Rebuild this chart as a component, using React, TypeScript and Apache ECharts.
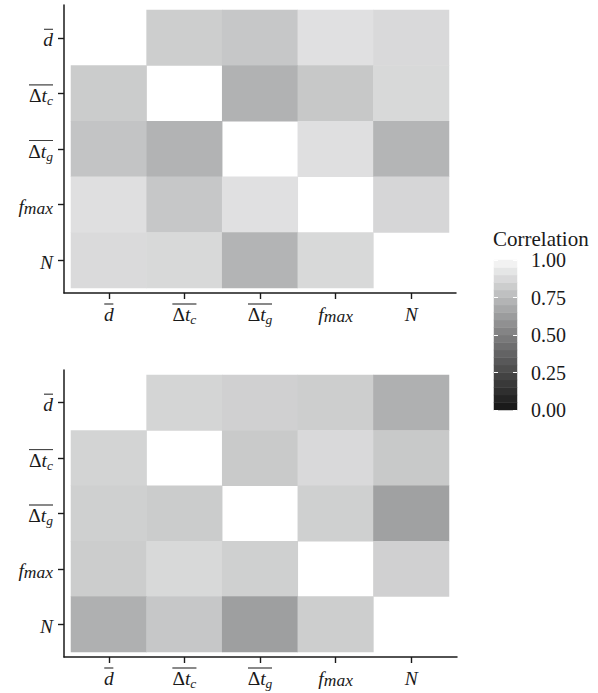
import React, { useEffect, useRef } from 'react';
import * as echarts from 'echarts';

// Variables (rows top→bottom, columns left→right)
const variables = ['d', 'dtc', 'dtg', 'fmax', 'N'];

// Correlation matrices; null = diagonal (left blank)
const topCorrelation: (number | null)[][] = [
  [null, 0.846, 0.817, 0.925, 0.896],
  [0.838, null, 0.728, 0.821, 0.892],
  [0.804, 0.732, null, 0.921, 0.741],
  [0.921, 0.817, 0.925, null, 0.883],
  [0.9, 0.892, 0.737, 0.892, null],
];
const bottomCorrelation: (number | null)[][] = [
  [null, 0.875, 0.858, 0.846, 0.719],
  [0.871, null, 0.829, 0.896, 0.825],
  [0.854, 0.838, null, 0.854, 0.652],
  [0.842, 0.892, 0.854, null, 0.858],
  [0.719, 0.817, 0.643, 0.846, null],
];

// Colour-bar legend
const legendTitle = 'Correlation';
const legendBins = [
  0, 0.0526, 0.1053, 0.1579, 0.2105, 0.2632, 0.3158, 0.3684, 0.4211, 0.4737,
  0.5263, 0.5789, 0.6316, 0.6842, 0.7368, 0.7895, 0.8421, 0.8947, 0.9474, 1,
];
const legendMin = 0;
const legendMax = 1;
const legendStep = 0.25;

const FONT = "'Liberation Serif', 'Times New Roman', serif";
const INK = '#1a1a1a';
const GREYS = ['#1a1a1a', '#4b4b4b', '#7e7e7f', '#b6b7b8', '#f2f2f2'];

const labelText: Record<string, string> = {
  d: '{ol1|}\n{it|d}',
  dtc: '{ol2|}\n{up|Δ}{it|t}{sub|c}',
  dtg: '{ol2|}\n{up|Δ}{it|t}{sub|g}',
  fmax: '{ol0|}\n{it|f}{sub2|max}',
  N: '{ol0|}\n{it|N}',
};

const rich: any = {
  ol0: { width: 1, height: 0, lineHeight: 4 },
  ol1: { width: 9, height: 0, lineHeight: 4, borderColor: INK, borderWidth: 0.6 },
  ol2: { width: 24, height: 0, lineHeight: 4, borderColor: INK, borderWidth: 0.6 },
  it: { fontFamily: FONT, fontStyle: 'italic', fontSize: 19.5, lineHeight: 17, color: INK },
  up: { fontFamily: FONT, fontSize: 19.5, lineHeight: 17, color: INK },
  sub: { fontFamily: FONT, fontStyle: 'italic', fontSize: 13.5, lineHeight: 17, padding: [10, 0, 0, 0], color: INK },
  sub2: { fontFamily: FONT, fontStyle: 'italic', fontSize: 17.5, lineHeight: 17, padding: [3, 0, 0, 0], color: INK },
};

const toCells = (m: (number | null)[][]) => {
  const out: number[][] = [];
  m.forEach((row, yi) =>
    row.forEach((v, xi) => {
      if (v !== null) out.push([xi, yi, v]);
    })
  );
  return out;
};

const frameAxis = (gridIndex: number) => ({
  type: 'value',
  gridIndex,
  min: 0,
  max: 1,
  axisLine: { show: true, onZero: false, lineStyle: { color: INK, width: 1.5 } },
  axisTick: { show: false },
  axisLabel: { show: false },
  splitLine: { show: false },
});

const catX = (gridIndex: number) => ({
  type: 'category',
  gridIndex,
  data: variables,
  offset: 5,
  axisLine: { show: false },
  axisTick: { show: true, alignWithLabel: true, length: 6, lineStyle: { color: INK, width: 1.4 } },
  axisLabel: { interval: 0, margin: 9, formatter: (v: string) => labelText[v], rich },
  splitLine: { show: false },
});

const catY = (gridIndex: number) => ({
  type: 'category',
  gridIndex,
  data: variables,
  inverse: true,
  offset: 7,
  axisLine: { show: false },
  axisTick: { show: true, alignWithLabel: true, length: 6, lineStyle: { color: INK, width: 1.4 } },
  axisLabel: { interval: 0, margin: 11, formatter: (v: string) => labelText[v], rich },
  splitLine: { show: false },
});

export default function App() {
  const ref = useRef<HTMLDivElement>(null);
  useEffect(() => {
    document.body.style.margin = '0';
    if (!ref.current) return;
    const chart = echarts.init(ref.current, undefined, { renderer: 'svg' });
    const option: any = {
      animation: false,
      backgroundColor: '#ffffff',
      textStyle: { fontFamily: FONT },
      title: {
        text: legendTitle,
        left: 493,
        top: 228,
        padding: 0,
        textStyle: { fontFamily: FONT, fontSize: 21, fontWeight: 'normal', color: INK },
      },
      grid: [
        { left: 64, top: 5, width: 392, height: 288 },
        { left: 71, top: 10, width: 378, height: 278 },
        { left: 64, top: 370, width: 393, height: 287 },
        { left: 71, top: 375, width: 378, height: 277 },
        { left: 494, top: 260, width: 23, height: 150 },
      ],
      xAxis: [
        frameAxis(0),
        catX(1),
        frameAxis(2),
        catX(3),
        { type: 'category', gridIndex: 4, data: ['bar'], show: false },
      ],
      yAxis: [
        frameAxis(0),
        catY(1),
        frameAxis(2),
        catY(3),
        { type: 'category', gridIndex: 4, data: legendBins.map((_, i) => String(i)), show: false },
        {
          type: 'value',
          gridIndex: 4,
          position: 'right',
          min: legendMin,
          max: legendMax,
          interval: legendStep,
          z: 10,
          axisLine: { show: false },
          axisTick: { show: true, inside: true, length: 4, lineStyle: { color: '#ffffff', width: 1 } },
          axisLabel: {
            margin: 14,
            fontFamily: FONT,
            fontSize: 20,
            color: INK,
            formatter: (v: number) => v.toFixed(2),
          },
          splitLine: { show: false },
        },
        {
          type: 'value',
          gridIndex: 4,
          position: 'left',
          min: legendMin,
          max: legendMax,
          interval: legendStep,
          z: 10,
          axisLine: { show: false },
          axisTick: { show: true, inside: true, length: 4, lineStyle: { color: '#ffffff', width: 1 } },
          axisLabel: { show: false },
          splitLine: { show: false },
        },
      ],
      visualMap: {
        type: 'continuous',
        show: false,
        min: legendMin,
        max: legendMax,
        dimension: 2,
        seriesIndex: [0, 1, 2],
        inRange: { color: GREYS },
      },
      series: [
        {
          type: 'heatmap',
          xAxisIndex: 1,
          yAxisIndex: 1,
          data: toCells(topCorrelation),
          itemStyle: { borderWidth: 0 },
        },
        {
          type: 'heatmap',
          xAxisIndex: 3,
          yAxisIndex: 3,
          data: toCells(bottomCorrelation),
          itemStyle: { borderWidth: 0 },
        },
        {
          type: 'heatmap',
          xAxisIndex: 4,
          yAxisIndex: 4,
          data: legendBins.map((v, i) => [0, i, v]),
          itemStyle: { borderWidth: 0 },
        },
      ],
    };
    chart.setOption(option);
    return () => chart.dispose();
  }, []);
  return <div ref={ref} style={{ width: 598, height: 693 }} />;
}
